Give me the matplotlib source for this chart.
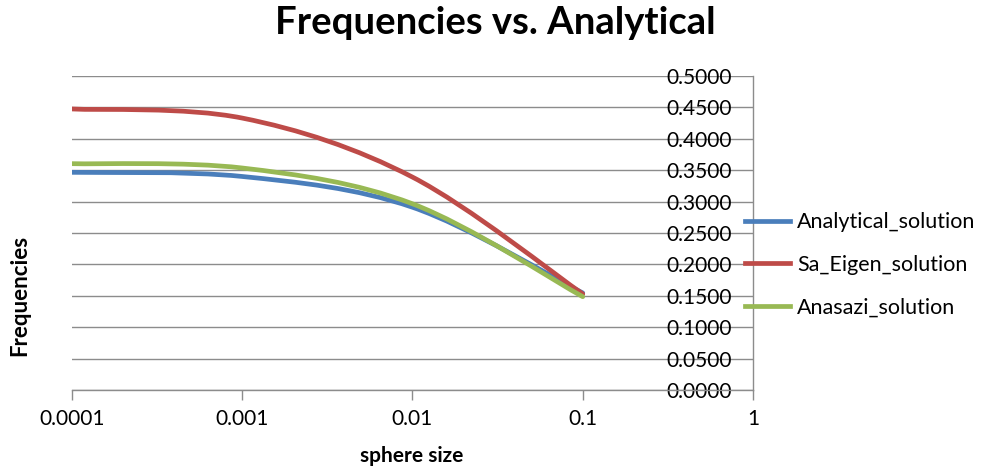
import numpy as np
import matplotlib
matplotlib.use('Agg')
import matplotlib.pyplot as plt
from matplotlib.path import Path
from matplotlib.patches import PathPatch
from matplotlib.lines import Line2D

plt.rcParams['font.family'] = ['Lato', 'DejaVu Sans']

# --- data ---
sphere_size = [0.0001, 0.001, 0.01, 0.1]
analytical = [0.3466, 0.3400, 0.2910, 0.1545]
sa_eigen = [0.4475, 0.4330, 0.3390, 0.1530]
anasazi = [0.3604, 0.3535, 0.2965, 0.1486]

series_names = ['Analytical_solution', 'Sa_Eigen_solution', 'Anasazi_solution']
series_colors = ['#4A7EBB', '#BE4B48', '#98B954']
y_ticks = [0.0, 0.05, 0.1, 0.15, 0.2, 0.25, 0.3, 0.35, 0.4, 0.45, 0.5]
x_ticks = [0.0001, 0.001, 0.01, 0.1, 1]
x_labels = ['0.0001', '0.001', '0.01', '0.1', '1']


def smooth_path(xs, ys):
    # Excel-like smoothed line: cubic Bezier through the points, in log-x space
    lx = np.log10(xs)
    y = np.asarray(ys, dtype=float)
    n = len(lx)
    verts = [(xs[0], y[0])]
    codes = [Path.MOVETO]
    for i in range(n - 1):
        i0, i2, i3 = max(i - 1, 0), i + 1, min(i + 2, n - 1)
        c1x = lx[i] + (lx[i2] - lx[i0]) / 6
        c1y = y[i] + (y[i2] - y[i0]) / 6
        c2x = lx[i2] - (lx[i3] - lx[i]) / 6
        c2y = y[i2] - (y[i3] - y[i]) / 6
        verts += [(10 ** c1x, c1y), (10 ** c2x, c2y), (xs[i2], y[i2])]
        codes += [Path.CURVE4] * 3
    return Path(verts, codes)


fig = plt.figure(figsize=(9.82, 4.71), dpi=100)
ax = fig.add_axes([72 / 982, 1 - 390 / 471, 681 / 982, 314 / 471])

ax.set_xscale('log')
ax.set_xlim(0.0001, 1)
ax.set_ylim(0, 0.5)

for vals, col in zip([analytical, sa_eigen, anasazi], series_colors):
    ax.add_patch(PathPatch(smooth_path(sphere_size, vals), facecolor='none',
                           edgecolor=col, lw=3.4, capstyle='round', zorder=3))

ax.set_yticks(y_ticks)
ax.set_yticklabels([f'{v:.4f}' for v in y_ticks])
ax.yaxis.tick_right()
ax.tick_params(axis='y', length=0, pad=-15, labelsize=15)
for lbl in ax.get_yticklabels():
    lbl.set_horizontalalignment('right')
ax.grid(axis='y', color='#8c8c8c', lw=1)
ax.set_axisbelow(True)

ax.set_xticks(x_ticks)
ax.set_xticklabels(x_labels)
ax.xaxis.set_minor_locator(matplotlib.ticker.NullLocator())
ax.tick_params(axis='x', length=7, color='#8c8c8c', width=1, pad=7, labelsize=15)

for side in ['left', 'top']:
    ax.spines[side].set_visible(False)
for side in ['right', 'bottom']:
    ax.spines[side].set_color('#8c8c8c')
    ax.spines[side].set_linewidth(1)

fig.text(495 / 982, 1 - 23 / 471, 'Frequencies vs. Analytical', ha='center', va='center',
         fontsize=27.5, fontweight='bold')
fig.text(412 / 982, 1 - 456 / 471, 'sphere size', ha='center', va='center',
         fontsize=15, fontweight='bold')
fig.text(20 / 982, 1 - 295 / 471, 'Frequencies', ha='center', va='center',
         fontsize=16, fontweight='bold', rotation=90)

handles = [Line2D([], [], color=c, lw=3.4) for c in series_colors]
fig.legend(handles, series_names, loc='center left', bbox_to_anchor=(745 / 982, 1 - 265 / 471),
           frameon=False, fontsize=15.5, handlelength=2.1, handletextpad=0.33,
           labelspacing=1.05, borderaxespad=0, borderpad=0)

fig.savefig('out.png', dpi=100)
